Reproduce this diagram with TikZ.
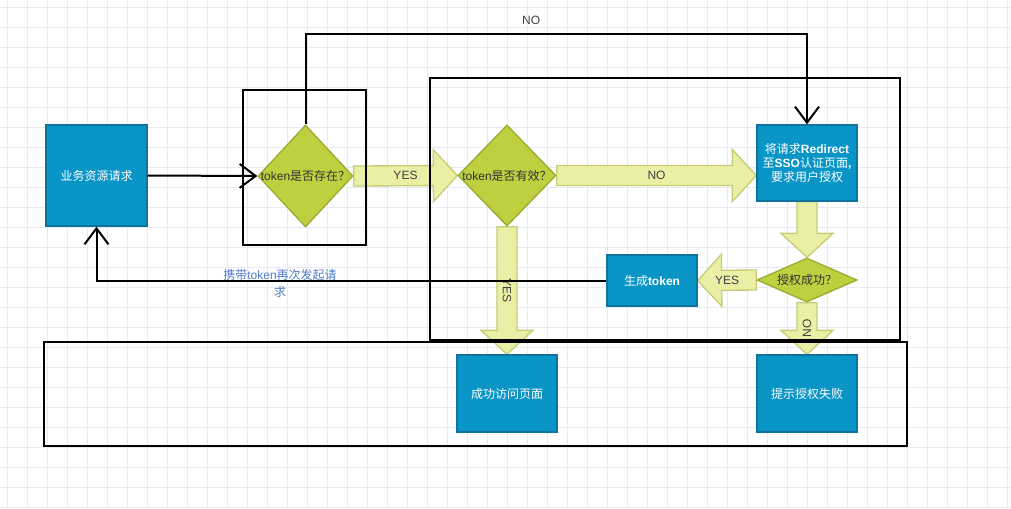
\documentclass[tikz,border=0pt]{standalone}
\usepackage{fontspec}
\setmainfont{Liberation Sans}
\newfontfamily\cjk{Noto Sans CJK SC}
\usetikzlibrary{arrows.meta,calc,shapes.geometric}

\definecolor{boxblue}{HTML}{0A95C7}
\definecolor{boxline}{HTML}{10739E}
\definecolor{dmdfill}{HTML}{BED03F}
\definecolor{dmdline}{HTML}{9AAC2E}
\definecolor{blkfill}{HTML}{EBEFA6}
\definecolor{blkline}{HTML}{C6CD76}
\definecolor{gridc}{HTML}{E9E9F5}
\definecolor{lblblue}{HTML}{4F7BC8}

\pgfdeclarelayer{bg}
\pgfdeclarelayer{mid}
\pgfsetlayers{bg,mid,main}

% 块状箭头: 起点, 终点, 名字, 文字, 文字旋转
\newcommand{\blk}[5]{%
  \coordinate (hb) at ($(#2)!18pt!(#1)$);
  \draw[blkarrow] ($(#1)!7.5pt!90:(#2)$) -- ($(hb)!7.5pt!90:(#2)$)
    -- ($(hb)!19.5pt!90:(#2)$) -- (#2) -- ($(hb)!19.5pt!-90:(#2)$)
    -- ($(hb)!7.5pt!-90:(#2)$) -- ($(#1)!7.5pt!-90:(#2)$) -- cycle;
  \node[blktext, rotate=#5] (#3) at ($(#1)!0.5!(#2)$) {#4};
}

\begin{document}
\begin{tikzpicture}[x=0.75pt, y=-0.75pt, >=Stealth, thick,
    bluebox/.style={rectangle, draw=boxline, line width=1pt, fill=boxblue,
      text=white, inner sep=0pt, align=center, font=\fontsize{9pt}{10.5pt}\selectfont},
    dmd/.style={diamond, draw=dmdline, line width=1pt, fill=dmdfill,
      text=black!80, inner sep=0pt, font=\fontsize{9pt}{10.5pt}\selectfont},
    blkarrow/.style={draw=blkline, line width=1pt, fill=blkfill},
    blktext/.style={text=black!75, inner sep=1pt, font=\fontsize{9pt}{10.5pt}\selectfont},
    conn/.style={line width=1.5pt, ->, >={Straight Barb[length=12pt, width=18pt]}},
    frame/.style={line width=1.6pt}]

    % 背景网格
    \useasboundingbox (0,0) rectangle (1011,508);
    \begin{pgfonlayer}{bg}
    \fill[white] (0,0) rectangle (1011,508);
    \foreach \x in {7,27,...,1007} {
        \draw[gridc, line width=0.5pt] (\x,0) -- (\x,508);
    }
    \foreach \y in {7,27,...,507} {
        \draw[gridc, line width=0.5pt] (0,\y) -- (1011,\y);
    }
    \end{pgfonlayer}

    % 节点
    \node[bluebox, minimum width=75.75pt, minimum height=75.75pt] (req) at (96.5,175.5) {{\cjk 业务资源请求}};
    \node[dmd, minimum width=71.25pt, minimum height=76.5pt] (exist) at (305.5,176) {\makebox[0pt]{token{\cjk 是否存在？}}};
    \node[dmd, minimum width=73.5pt, minimum height=75.75pt] (valid) at (507,175.5) {\makebox[0pt]{token{\cjk 是否有效？}}};
    \node[bluebox, minimum width=75pt, minimum height=57pt] (redir) at (807,163)
        {{\cjk 将请求}\textbf{Redirect}\\{\cjk 至}\textbf{SSO}{\cjk 认证页面}\textbf{,}\\{\cjk 要求用户授权}};
    \node[dmd, minimum width=75pt, minimum height=33pt] (authok) at (807,280) {\makebox[0pt]{{\cjk 授权成功？}}};
    \node[bluebox, minimum width=67.5pt, minimum height=38.25pt] (gentok) at (652,280.5) {{\cjk 生成}\textbf{token}};
    \node[bluebox, minimum width=75pt, minimum height=57.75pt] (visit) at (507,393.5) {{\cjk 成功访问页面}};
    \node[bluebox, minimum width=75pt, minimum height=57.75pt] (fail) at (807,393.5) {{\cjk 提示授权失败}};
    \coordinate (noEnd) at (redir.west |- valid.east);

    \begin{pgfonlayer}{mid}
    % 块状箭头
    \blk{exist.east}{valid.west}{yesA}{YES}{0}
    \blk{valid.east}{noEnd}{noA}{NO}{0}
    \blk{redir.south}{authok.north}{downA}{}{0}
    \blk{authok.west}{gentok.east}{yesB}{YES}{0}
    \blk{valid.south}{visit.north}{yesC}{YES}{-90}
    \blk{authok.south}{fail.north}{noB}{NO}{90}

    % 外框
    \draw[frame] (243,90) rectangle (366,245);
    \draw[frame] (430,78) rectangle (900,340);
    \draw[frame] (44,342) rectangle (907,446);
    \end{pgfonlayer}

    % 连线
    \draw[conn] (req.east) -- (exist.west);
    \draw[conn] (exist.north) -- (exist.north |- 0,34) -| (redir.north)
        node[pos=0.225, above=3pt, text=black!75, font=\fontsize{9pt}{10.5pt}\selectfont] (noTop) {NO};
    \draw[conn] (gentok.west) -| (req.south)
        node[pos=0.32, yshift=-2pt, text=lblblue, align=center, inner sep=0pt,
             font=\fontsize{9pt}{12.5pt}\selectfont] (again) {{\cjk 携带}token{\cjk 再次发起请}\\{\cjk 求}};
\end{tikzpicture}
\end{document}
